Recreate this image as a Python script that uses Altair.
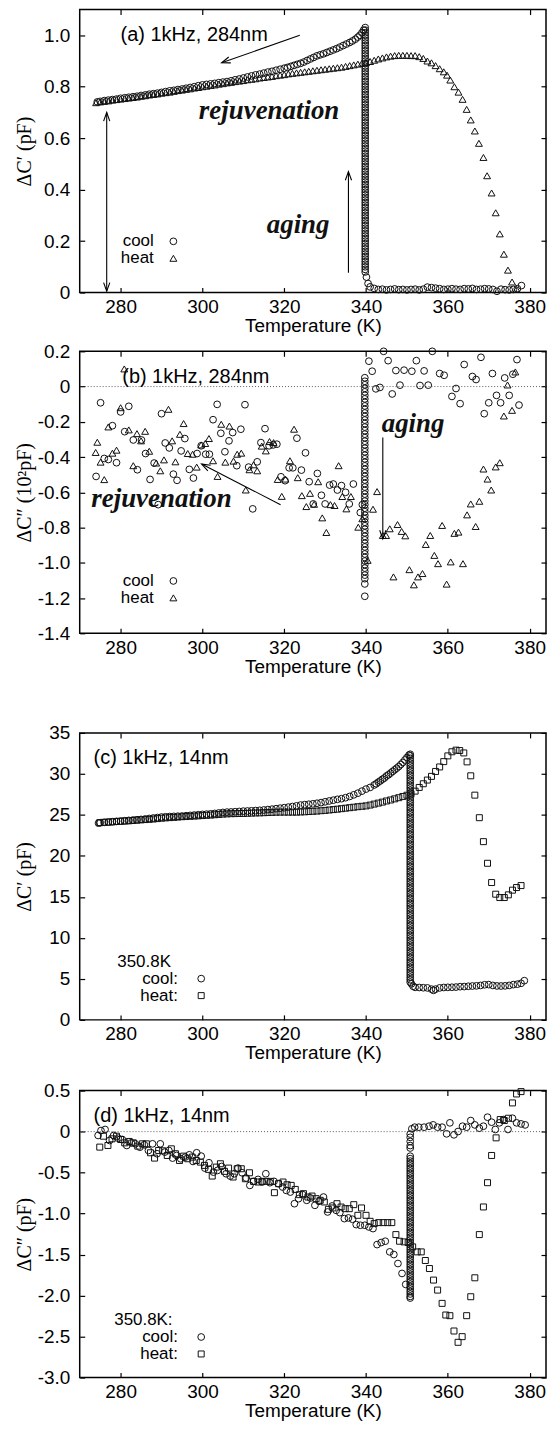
import math
import altair as alt
import pandas as pd

# ---------------- data ----------------
XT = [280, 300, 320, 340, 360, 380]
XDOM = [270, 384]
W = 468

# panel (a) cool: high-T branch, aging column, low-T branch
A_COOL_HI_T = [378, 377, 376, 375, 374, 373, 372, 371, 370, 369, 368, 367, 366, 365, 364, 363, 362, 361, 360, 359,
               358, 357, 356, 355, 354, 353, 352, 351, 350, 349, 348, 347, 346, 345, 344, 343, 342, 341, 340.5, 340.1]
A_COOL_HI_V = [0.027, 0.015, 0.012, 0.010, 0.011, 0.013, 0.005, 0.012, 0.014, 0.015, 0.013, 0.012, 0.016, 0.014,
               0.015, 0.012, 0.013, 0.015, 0.013, 0.012, 0.015, 0.017, 0.019, 0.021, 0.013, 0.010, 0.013, 0.012,
               0.010, 0.012, 0.011, 0.014, 0.012, 0.010, 0.013, 0.012, 0.016, 0.022, 0.035, 0.06]
A_COL_T = 339.8
A_COL_V = [0.08, 0.09, 0.10, 0.11, 0.12, 0.13, 0.14, 0.15, 0.16, 0.17, 0.18, 0.19, 0.20, 0.21, 0.22, 0.23, 0.24,
           0.25, 0.26, 0.27, 0.28, 0.29, 0.30, 0.31, 0.32, 0.33, 0.34, 0.35, 0.36, 0.37, 0.38, 0.39, 0.40, 0.41,
           0.42, 0.43, 0.44, 0.45, 0.46, 0.47, 0.48, 0.49, 0.50, 0.51, 0.52, 0.53, 0.54, 0.55, 0.56, 0.57, 0.58,
           0.59, 0.60, 0.61, 0.62, 0.63, 0.64, 0.65, 0.66, 0.67, 0.68, 0.69, 0.70, 0.71, 0.72, 0.73, 0.74, 0.75,
           0.76, 0.77, 0.78, 0.79, 0.80, 0.81, 0.82, 0.83, 0.84, 0.85, 0.86, 0.87, 0.88, 0.89, 0.90, 0.91, 0.92,
           0.93, 0.94, 0.95, 0.96, 0.97, 0.98, 0.99, 1.00, 1.01, 1.02, 1.03]
A_COOL_LO_T = [339.4, 339, 338.5, 338, 337.4, 336.7, 336, 335.2, 334.4, 333.6, 332.8, 332, 331.2, 330.4, 329.6,
               328.8, 328, 327.2, 326.4, 325.6, 324.8, 324, 323.2, 322.4, 321.6, 320.8, 320, 319, 318, 317, 316,
               315, 314, 313, 312, 311, 310, 309, 308, 307, 306, 305, 304, 303, 302, 301, 300, 299, 298, 297, 296,
               295, 294, 293, 292, 291, 290, 289, 288, 287, 286, 285, 284, 283, 282, 281, 280, 279, 278, 277, 276,
               275, 274.3]
A_COOL_LO_V = [1.02, 1.01, 1.0, 0.993, 0.985, 0.978, 0.972, 0.966, 0.96, 0.954, 0.948, 0.943, 0.938, 0.933, 0.928,
               0.924, 0.92, 0.914, 0.908, 0.902, 0.896, 0.891, 0.887, 0.883, 0.879, 0.875, 0.872, 0.868, 0.864,
               0.86, 0.857, 0.853, 0.849, 0.846, 0.842, 0.838, 0.834, 0.83, 0.827, 0.823, 0.82, 0.818, 0.816,
               0.813, 0.811, 0.809, 0.807, 0.804, 0.8, 0.797, 0.794, 0.791, 0.789, 0.786, 0.784, 0.781, 0.778,
               0.775, 0.773, 0.771, 0.768, 0.766, 0.763, 0.761, 0.759, 0.757, 0.755, 0.752, 0.75, 0.748, 0.746,
               0.743, 0.741]
A_HEAT_T = [274, 275, 276, 277, 278, 279, 280, 281, 282, 283, 284, 285, 286, 287, 288, 289, 290, 291, 292, 293,
            294, 295, 296, 297, 298, 299, 300, 301, 302, 303, 304, 305, 306, 307, 308, 309, 310, 311, 312, 313,
            314, 315, 316, 317, 318, 319, 320, 321, 322, 323, 324, 325, 326, 327, 328, 329, 330, 331, 332, 333,
            334, 335, 336, 337, 338, 339, 340, 341, 342, 343, 344, 345, 346, 347, 348, 349, 350, 351, 352, 353,
            354, 355, 356, 357, 358, 359, 359.8, 360.6, 361.6, 362.6, 363.6, 364.6, 365.6, 366.6, 367.6, 368.7,
            369.6, 370.7, 371.7, 372.7, 373.7, 374.7, 375.7, 376.8]
A_HEAT_V = [0.738, 0.741, 0.743, 0.745, 0.748, 0.75, 0.752, 0.754, 0.756, 0.758, 0.76, 0.763, 0.765, 0.768, 0.77,
            0.772, 0.775, 0.777, 0.779, 0.782, 0.785, 0.787, 0.79, 0.792, 0.795, 0.797, 0.80, 0.802, 0.805, 0.807,
            0.81, 0.812, 0.815, 0.817, 0.82, 0.822, 0.824, 0.827, 0.829, 0.831, 0.834, 0.836, 0.838, 0.84, 0.843,
            0.845, 0.847, 0.85, 0.852, 0.854, 0.856, 0.858, 0.86, 0.862, 0.864, 0.866, 0.868, 0.87, 0.872, 0.874,
            0.876, 0.879, 0.882, 0.885, 0.888, 0.891, 0.894, 0.898, 0.903, 0.908, 0.912, 0.916, 0.919, 0.921,
            0.922, 0.922, 0.922, 0.921, 0.921, 0.917, 0.91, 0.9, 0.893, 0.882, 0.87, 0.858, 0.845, 0.826, 0.80,
            0.779, 0.751, 0.712, 0.671, 0.628, 0.58, 0.525, 0.454, 0.387, 0.31, 0.228, 0.149, 0.087, 0.041, 0.013]

# panel (b)
B_COOL_T = [275.1, 274.0, 276.0, 277.0, 278.0, 279.0, 280.0, 281.0, 282.0, 283.1, 284.1, 285.1, 286.1, 287.2,
            288.2, 289.2, 290.0, 290.9, 291.9, 292.9, 293.8, 294.8, 295.7, 296.8, 297.8, 298.7, 299.7, 300.8,
            301.7, 302.6, 303.6, 304.5, 305.5, 306.5, 307.4, 308.4, 309.4, 310.4, 311.3, 312.3, 313.4, 314.3,
            315.3, 316.3, 317.3, 318.2, 319.2, 320.2, 321.2, 322.1, 323.1, 324.2, 325.2, 326.1, 327.1, 328.1,
            329.1, 330.0, 331.1, 332.0, 333.0, 334.0, 335.0, 335.9, 336.9, 338.6, 339.1,
            340.7, 341.5, 342.4, 343.4, 344.3, 345.4, 346.4, 347.3, 348.3, 349.3, 351.2, 352.3, 353.2, 354.2,
            355.2, 356.2, 358.0, 359.1, 361.0, 362.0, 363.0, 364.0, 366.0, 366.9, 368.1, 368.9, 370.0, 370.9,
            371.9, 372.9, 373.9, 375.0, 375.9, 376.9, 377.4]
B_COOL_V = [-0.092, -0.51, -0.408, -0.414, -0.222, -0.432, -0.144, -0.256, -0.112, -0.303, -0.472, -0.303,
            -0.38, -0.527, -0.434, -0.67, -0.154, -0.32, -0.348, -0.497, -0.532, -0.365, -0.295, -0.47, -0.519,
            -0.38, -0.336, -0.384, -0.384, -0.188, -0.101, -0.265, -0.37, -0.308, -0.261, -0.449, -0.242,
            -0.103, -0.457, -0.694, -0.427, -0.318, -0.239, -0.336, -0.331, -0.327, -0.512, -0.534, -0.461,
            -0.461, -0.293, -0.474, -0.376, -0.54, -0.666, -0.493, -0.617, -0.666, -0.559, -0.553, -0.587,
            -0.562, -0.6, -0.666, -0.553, -0.715, -0.67,
            0.144, 0.087, -0.013, -0.005, 0.2, 0.147, -0.042, 0.091, 0.008, 0.093, 0.087, 0.147, 0.006, 0.089,
            0.008, 0.2, 0.074, 0.064, -0.056, -0.011, -0.097, 0.125, 0.057, 0.04, 0.166, -0.154, -0.092, 0.074,
            -0.05, -0.092, 0.049, -0.05, 0.07, 0.153, -0.105]
B_COL_T = 339.7
B_COL_V = [0.05, 0.03, 0.01, -0.01, -0.03, -0.05, -0.07, -0.09, -0.11, -0.13, -0.15, -0.17, -0.19, -0.21,
           -0.23, -0.25, -0.27, -0.29, -0.31, -0.33, -0.35, -0.37, -0.39, -0.41, -0.43, -0.45, -0.47, -0.49,
           -0.51, -0.53, -0.55, -0.57, -0.59, -0.61, -0.63, -0.65, -0.67, -0.69, -0.71, -0.73, -0.75, -0.77,
           -0.79, -0.81, -0.83, -0.85, -0.87, -0.89, -0.91, -0.93, -0.95, -0.97, -0.99, -1.01, -1.03, -1.05,
           -1.07, -1.09, -1.12, -1.19]
B_HEAT_T = [273.9, 274.3, 275.1, 276.0, 277.0, 278.0, 279.0, 280.0, 280.9, 282.0, 283.1, 284.0, 285.0, 286.0,
            287.0, 288.7, 289.7, 290.6, 291.7, 292.6, 293.4, 294.5, 295.4, 296.4, 297.6, 298.6, 299.7, 300.7,
            301.6, 302.6, 303.7, 304.6, 305.6, 306.6, 307.6, 308.5, 309.5, 310.6, 311.5, 312.5, 313.4, 314.5,
            315.5, 316.4, 317.4, 318.4, 319.4, 320.3, 321.4, 322.4, 323.3, 324.3, 325.4, 326.3, 327.3, 328.3,
            329.3, 330.3, 331.3, 332.3, 333.3, 334.2, 335.2, 336.3, 338.1, 339.1, 340.4, 341.7, 342.7, 344.1,
            344.9, 345.8, 346.7, 347.7, 348.7, 349.6, 350.6, 351.7, 352.7, 353.8, 354.6, 355.7, 356.7, 357.6,
            358.6, 359.7, 360.7, 361.6, 362.6, 363.7, 364.7, 365.6, 366.8, 367.7, 368.7, 369.7, 370.6, 371.7,
            372.7, 373.7, 374.6, 375.7, 376.5]
B_HEAT_V = [-0.374, -0.316, -0.429, -0.528, -0.229, -0.378, -0.361, -0.12, 0.10, -0.246, -0.449, -0.267,
            -0.308, -0.254, -0.367, -0.434, -0.478, -0.416, -0.129, -0.308, -0.427, -0.271, -0.21, -0.38,
            -0.384, -0.457, -0.331, -0.323, -0.295, -0.421, -0.51, -0.214, -0.429, -0.224, -0.423, -0.384,
            -0.378, -0.587, -0.472, -0.444, -0.478, -0.338, -0.365, -0.312, -0.318, -0.527, -0.623, -0.525,
            -0.421, -0.242, -0.517, -0.619, -0.681, -0.606, -0.668, -0.54, -0.745, -0.828, -0.67, -0.675,
            -0.449, -0.624, -0.694, -0.624, -0.798, -0.75, -0.986, -0.696, -0.596, -0.845, -0.845, -0.807,
            -1.08, -0.783, -0.822, -0.847, -1.039, -1.125, -1.08, -1.061, -0.896, -0.845, -0.958, -1.005,
            -0.788, -1.121, -0.995, -0.833, -0.826, -1.005, -0.728, -0.666, -0.794, -0.651, -0.468, -0.525,
            -0.587, -0.456, -0.432, -0.167, 0.009, -0.135, 0.083]

# panel (c)
C_COOL_HI_T = [378.7, 377.9, 377, 376, 375, 374, 373, 372, 371, 370, 369, 368, 367, 366, 365, 364, 363, 362,
               361, 360, 359, 358, 357, 356.5, 356, 355, 354, 353, 352, 351.5, 351.1]
C_COOL_HI_V = [4.78, 4.46, 4.35, 4.3, 4.2, 4.15, 4.13, 4.14, 4.2, 4.3, 4.28, 4.2, 4.15, 4.13, 4.1, 4.06, 4.05,
               4.0, 3.98, 3.97, 3.95, 3.9, 3.75, 3.6, 3.75, 3.9, 3.92, 3.95, 3.97, 4.1, 4.4]
C_COL_T = 350.8
C_COL_V = [4.6, 4.9, 5.2, 5.5, 5.8, 6.1, 6.4, 6.7, 7.0, 7.3, 7.6, 7.9, 8.2, 8.5, 8.8, 9.1, 9.4, 9.7, 10.0,
           10.3, 10.6, 10.9, 11.2, 11.5, 11.8, 12.1, 12.4, 12.7, 13.0, 13.3, 13.6, 13.9, 14.2, 14.5, 14.8, 15.1,
           15.4, 15.7, 16.0, 16.3, 16.6, 16.9, 17.2, 17.5, 17.8, 18.1, 18.4, 18.7, 19.0, 19.3, 19.6, 19.9, 20.2,
           20.5, 20.8, 21.1, 21.4, 21.7, 22.0, 22.3, 22.6, 22.9, 23.2, 23.5, 23.8, 24.1, 24.4, 24.7, 25.0, 25.3,
           25.6, 25.9, 26.2, 26.5, 26.8, 27.1, 27.4, 27.7, 28.0, 28.3, 28.6, 28.9, 29.2, 29.5, 29.8, 30.1, 30.4,
           30.7, 31.0, 31.3, 31.6, 31.9, 32.2, 32.4]
C_COOL_LO_T = [350.5, 350, 349.5, 349, 348.5, 348, 347.5, 347, 346.5, 346, 345.5, 345, 344.5, 344, 343.5, 343,
               342.5, 342, 341, 340, 339, 338, 337, 336, 335, 334, 333, 332, 331, 330, 329, 328, 327, 326, 325,
               324, 323, 322, 321, 320, 319, 318, 317, 316, 315, 314, 313, 312, 311, 310, 309, 308, 307, 306,
               305, 304, 303, 302, 301, 300, 299, 298, 297, 296, 295, 294, 293, 292, 291, 290, 289, 288, 287,
               286, 285, 284, 283, 282, 281, 280, 279, 278, 277, 276, 275, 274.6]
C_COOL_LO_V = [32.3, 32.0, 31.7, 31.4, 31.15, 30.9, 30.7, 30.5, 30.3, 30.1, 29.9, 29.75, 29.5, 29.35, 29.15,
               29.0, 28.8, 28.65, 28.35, 28.15, 27.9, 27.65, 27.45, 27.25, 27.1, 26.98, 26.9, 26.8, 26.7, 26.6,
               26.5, 26.42, 26.35, 26.3, 26.25, 26.2, 26.1, 26.02, 25.95, 25.88, 25.82, 25.76, 25.7, 25.65, 25.6,
               25.56, 25.53, 25.5, 25.48, 25.46, 25.42, 25.39, 25.36, 25.34, 25.3, 25.24, 25.18, 25.13, 25.09,
               25.06, 25.02, 24.98, 24.94, 24.9, 24.86, 24.84, 24.82, 24.8, 24.77, 24.74, 24.68, 24.62, 24.56,
               24.5, 24.45, 24.41, 24.37, 24.33, 24.29, 24.25, 24.21, 24.17, 24.13, 24.09, 24.05, 24.0]
C_HEAT_T = [274.9, 276, 277, 278, 279, 280, 281, 282, 283, 284, 285, 286, 287, 288, 289, 290, 291, 292, 293, 294,
            295, 296, 297, 298, 299, 300, 301, 302, 303, 304, 305, 306, 307, 308, 309, 310, 311, 312, 313, 314,
            315, 316, 317, 318, 319, 320, 321, 322, 323, 324, 325, 326, 327, 328, 329, 330, 331, 332, 333, 334,
            335, 336, 337, 338, 339, 340, 341, 342, 343, 344, 345, 346, 347, 348, 349, 350, 351, 352, 353, 354,
            355, 356, 357, 358, 359, 360, 361, 362, 362.9, 363.9, 364.7, 365.6, 366.6, 367.7, 368.7, 369.7,
            370.7, 371.7, 372.7, 373.8, 374.8, 375.8, 376.8, 377.9]
C_HEAT_V = [24.05, 24.1, 24.12, 24.15, 24.2, 24.22, 24.25, 24.28, 24.32, 24.36, 24.4, 24.43, 24.46, 24.5, 24.55,
            24.6, 24.64, 24.67, 24.7, 24.74, 24.78, 24.8, 24.83, 24.86, 24.89, 24.92, 24.95, 24.98, 25.02, 25.06,
            25.1, 25.13, 25.15, 25.16, 25.17, 25.18, 25.2, 25.22, 25.24, 25.25, 25.27, 25.29, 25.31, 25.33,
            25.34, 25.34, 25.34, 25.34, 25.34, 25.36, 25.38, 25.41, 25.44, 25.47, 25.51, 25.55, 25.6, 25.65,
            25.7, 25.76, 25.82, 25.88, 25.94, 26.0, 26.05, 26.1, 26.2, 26.32, 26.44, 26.56, 26.7, 26.82, 26.96,
            27.1, 27.25, 27.4, 27.57, 27.9, 28.35, 28.8, 29.25, 29.7, 30.3, 30.85, 31.5, 32.2, 32.7, 32.9,
            32.85, 32.56, 31.47, 29.77, 27.41, 24.66, 21.74, 19.1, 16.75, 15.33, 14.92, 14.92, 15.25, 15.82,
            16.14, 16.38]

# panel (d)
D_COOL_T = [274.5, 275.2, 276.2, 277.3, 278.3, 279.4, 280.4, 281.5, 282.6, 283.6, 284.7, 285.8, 286.8, 287.8,
            288.9, 289.7, 290.8, 291.8, 292.7, 293.7, 294.7, 295.8, 296.8, 297.7, 298.6, 299.7, 300.6, 301.6,
            302.7, 303.7, 304.7, 305.8, 306.8, 307.8, 308.7, 309.7, 310.7, 311.6, 312.5, 313.6, 314.6, 315.5,
            316.5, 317.5, 318.6, 319.6, 320.5, 321.5, 322.5, 323.5, 324.5, 325.5, 326.4, 327.5, 328.5, 329.6,
            330.6, 331.7, 332.7, 333.6, 334.7, 335.7, 336.7, 337.6, 338.6, 339.7, 340.7, 341.7, 342.7, 343.7,
            344.7, 345.8, 346.8, 347.8, 348.8, 349.7,
            351.2, 351.9, 352.9, 354.2, 355.4, 356.4, 357.5, 358.6, 359.7, 360.5, 361.5, 362.5, 363.6, 364.6,
            365.6, 366.6, 367.7, 368.7, 369.7, 370.7, 371.6, 372.6, 373.6, 374.7, 375.8, 376.8, 377.9, 378.9]
D_COOL_V = [-0.047, 0.013, 0.026, -0.108, -0.047, -0.08, -0.096, -0.169, -0.137, -0.149, -0.19, -0.161, -0.23,
            -0.149, -0.27, -0.149, -0.25, -0.23, -0.323, -0.291, -0.331, -0.311, -0.283, -0.364, -0.258, -0.299,
            -0.445, -0.38, -0.494, -0.473, -0.425, -0.514, -0.542, -0.514, -0.445, -0.502, -0.566, -0.656,
            -0.607, -0.583, -0.615, -0.514, -0.623, -0.607, -0.635, -0.676, -0.717, -0.737, -0.879, -0.818,
            -0.769, -0.838, -0.81, -0.899, -0.85, -0.798, -0.98, -0.907, -0.96, -0.988, -1.061, -1.053, -1.069,
            -1.134, -1.142, -1.142, -1.163, -1.183, -1.378, -1.353, -1.337, -1.467, -1.499, -1.609, -1.73, -1.864,
            0.034, 0.054, 0.054, 0.054, 0.066, 0.082, 0.054, 0.054, -0.027, 0.107, -0.039, 0.001, 0.066, 0.054,
            0.135, 0.082, 0.042, 0.066, 0.176, 0.115, 0.026, 0.107, 0.147, 0.026, 0.163, 0.107, 0.094, 0.082]
D_COL_T = 350.8
D_COL_V = [-0.03, -0.07, -0.12, -0.17, -0.20, -0.30, -0.33, -0.36, -0.39, -0.42, -0.45, -0.48, -0.51, -0.54,
           -0.57, -0.60, -0.63, -0.66, -0.69, -0.72, -0.75, -0.78, -0.81, -0.84, -0.87, -0.90, -0.93, -0.96,
           -0.99, -1.02, -1.05, -1.08, -1.11, -1.14, -1.17, -1.20, -1.23, -1.26, -1.29, -1.32, -1.35, -1.38,
           -1.41, -1.44, -1.47, -1.50, -1.53, -1.56, -1.59, -1.62, -1.65, -1.68, -1.71, -1.74, -1.77, -1.80,
           -1.83, -1.86, -1.89, -1.92, -1.95, -1.98, -2.01, -2.03]
D_HEAT_T = [274.9, 275.8, 276.9, 277.9, 279.0, 280.0, 281.0, 282.1, 283.1, 284.2, 285.3, 286.3, 287.3, 288.3,
            289.3, 290.3, 291.4, 292.4, 293.4, 294.4, 295.4, 296.4, 297.5, 298.5, 299.5, 300.5, 301.5, 302.4,
            303.4, 304.4, 305.4, 306.4, 307.5, 308.5, 309.5, 310.5, 311.5, 312.5, 313.6, 314.6, 315.6, 316.6,
            317.6, 318.6, 319.7, 320.7, 321.7, 322.7, 323.7, 324.7, 325.8, 326.8, 327.8, 328.8, 329.8, 330.8,
            331.9, 332.9, 333.9, 334.9, 335.9, 337.0, 338.0, 338.9, 340.0, 341.0, 342.0, 343.1, 344.2, 345.3,
            346.3, 347.3, 348.2, 349.3, 350.3, 351.4, 352.5, 353.5, 354.5, 355.5, 356.5, 357.5, 358.6, 359.5,
            360.5, 361.5, 362.5, 363.5, 364.6, 365.6, 366.6, 367.7, 368.7, 369.7, 370.7, 371.8, 372.8, 373.8,
            374.8, 375.8, 376.8, 377.9]
D_HEAT_V = [-0.189, -0.056, -0.169, -0.088, -0.056, -0.096, -0.137, -0.12, -0.137, -0.177, -0.149, -0.149,
            -0.258, -0.323, -0.23, -0.234, -0.291, -0.21, -0.27, -0.352, -0.299, -0.331, -0.311, -0.352, -0.372,
            -0.412, -0.461, -0.542, -0.433, -0.392, -0.485, -0.445, -0.554, -0.453, -0.453, -0.575, -0.502,
            -0.607, -0.615, -0.607, -0.607, -0.607, -0.745, -0.635, -0.615, -0.648, -0.656, -0.705, -0.769,
            -0.757, -0.798, -0.786, -0.818, -0.838, -0.858, -0.948, -0.931, -0.879, -0.92, -0.94, -0.94, -0.891,
            -1.021, -0.931, -1.021, -1.094, -1.122, -1.11, -1.11, -1.11, -1.11, -1.256, -1.337, -1.345, -1.353,
            -1.406, -1.467, -1.467, -1.572, -1.67, -1.811, -1.933, -2.095, -2.237, -2.245, -2.432, -2.57,
            -2.501, -2.245, -2.014, -1.783, -1.256, -0.919, -0.623, -0.291, -0.076, 0.147, 0.135, 0.163, 0.35,
            0.459, 0.488]

# ---------------- styling helpers ----------------
SANS = "Liberation Sans"
SERIF = "Liberation Serif"
HEAD = "M -0.36 1 L 0 0 L 0.36 1"
CIRC, TRI, SQR = 46, 48, 36


def fmt_expr(dec):
    if dec == 0:
        return "(datum.value < 0 ? '-' : '') + format(abs(datum.value), 'd')"
    return ("datum.value == 0 ? '0' : (datum.value < 0 ? '-' : '') + format(abs(datum.value), '.%df')" % dec)


def panel(ydom, H, yticks, dec, ytitle, cool_sets, heat_sets, heat_shape, zero, label, texts_bi,
          legend_txt, legend_pts, arrows):
    xs = alt.Scale(domain=XDOM, nice=False, zero=False)
    ys = alt.Scale(domain=ydom, nice=False, zero=False)
    kx = W / (XDOM[1] - XDOM[0])
    ky = H / (ydom[1] - ydom[0])

    def X(f, axis=None):
        return alt.X(f, type="quantitative", scale=xs, axis=axis)

    def Y(f, axis=None):
        return alt.Y(f, type="quantitative", scale=ys, axis=axis)

    dummy = pd.DataFrame({"T": [XDOM[0]], "v": [ydom[0]]})
    ax_b = alt.Axis(values=XT, orient="bottom", offset=-5, tickSize=5, tickWidth=1.2, tickColor="black",
                    domain=False, grid=False, labelPadding=5, labelFont=SANS, labelFontSize=19,
                    labelColor="black", title="Temperature (K)", titleFont=SANS, titleFontSize=19,
                    titleFontWeight="normal", titleColor="black", titlePadding=0)
    ax_l = alt.Axis(values=yticks, orient="left", offset=-5, tickSize=5, tickWidth=1.2, tickColor="black",
                    domain=False, grid=False, labelPadding=10, labelFont=SANS, labelFontSize=19,
                    labelColor="black", labelExpr=fmt_expr(dec), title=ytitle, titleFont=SERIF,
                    titleFontSize=20, titleFontWeight="normal", titleColor="black", titleX=-60,
                    titleBaseline="middle")
    ax_t = alt.Axis(values=XT, orient="top", offset=-5, tickSize=5, tickWidth=1.2, tickColor="black",
                    domain=False, grid=False, labels=False, title=None)
    ax_r = alt.Axis(values=yticks, orient="right", offset=-5, tickSize=5, tickWidth=1.2, tickColor="black",
                    domain=False, grid=False, labels=False, title=None)

    layers = [
        alt.Chart(dummy).mark_point(opacity=0).encode(x=X("T", ax_b), y=Y("v", ax_l)),
        alt.Chart(dummy).mark_point(opacity=0).encode(x=X("T", ax_t), y=Y("v", ax_r)),
    ]
    if zero:
        layers.append(alt.Chart(pd.DataFrame({"v": [0]})).mark_rule(
            strokeDash=[1, 2], color="#333", strokeWidth=0.8).encode(y=Y("v")))

    def pts(T, V, shape, size):
        df = pd.DataFrame({"T": T, "v": V})
        return alt.Chart(df).mark_point(shape=shape, filled=False, size=size, color="#111",
                                        strokeWidth=1, opacity=1).encode(x=X("T"), y=Y("v"))

    for T, V in cool_sets:
        layers.append(pts(T, V, "circle", CIRC))
    for T, V in heat_sets:
        layers.append(pts(T, V, heat_shape, TRI if heat_shape != "square" else SQR))

    if arrows:
        rules = pd.DataFrame([{"x": a[0], "y": a[1], "x2": a[2], "y2": a[3]} for a in arrows])
        layers.append(alt.Chart(rules).mark_rule(color="black", strokeWidth=1.1).encode(
            x=X("x"), y=Y("y"), x2="x2:Q", y2="y2:Q"))
        heads = []
        for (x1, y1, x2, y2, both) in arrows:
            dx, dy = (x2 - x1) * kx, -(y2 - y1) * ky
            ang = math.degrees(math.atan2(dx, -dy)) % 360
            heads.append({"x": x2, "y": y2, "a": ang})
            if both:
                heads.append({"x": x1, "y": y1, "a": (ang + 180) % 360})
        layers.append(alt.Chart(pd.DataFrame(heads)).mark_point(
            shape=HEAD, filled=False, size=300, color="black", strokeWidth=1.1, opacity=1).encode(
            x=X("x"), y=Y("y"), angle=alt.Angle("a:Q", scale=None)))

    lab = pd.DataFrame([{"x": label[1], "y": label[2], "s": label[0]}])
    layers.append(alt.Chart(lab).mark_text(font=SANS, fontSize=20, align="left", baseline="middle",
                                           color="black").encode(x=X("x"), y=Y("y"), text="s:N"))
    if texts_bi:
        tb = pd.DataFrame([{"x": t[1], "y": t[2], "s": t[0]} for t in texts_bi])
        layers.append(alt.Chart(tb).mark_text(font=SERIF, fontSize=27, fontStyle="italic", fontWeight="bold",
                                              align="center", baseline="middle", color="#111").encode(
            x=X("x"), y=Y("y"), text="s:N"))
    lt = pd.DataFrame([{"x": t[1], "y": t[2], "s": t[0]} for t in legend_txt])
    layers.append(alt.Chart(lt).mark_text(font=SANS, fontSize=17, align="right", baseline="middle",
                                          color="black").encode(x=X("x"), y=Y("y"), text="s:N"))
    for (x, y, shp) in legend_pts:
        layers.append(pts([x], [y], shp, CIRC if shp == "circle" else (SQR if shp == "square" else TRI)))

    return alt.layer(*layers).resolve_axis(x="independent", y="independent").properties(width=W, height=H)


pa = panel([0, 1.1], 284, [0, 0.2, 0.4, 0.6, 0.8, 1.0], 1, "ΔC′ (pF)",
           [(A_COOL_HI_T, A_COOL_HI_V), ([A_COL_T] * len(A_COL_V), A_COL_V), (A_COOL_LO_T, A_COOL_LO_V)],
           [(A_HEAT_T, A_HEAT_V)], "triangle-up", False,
           ("(a) 1kHz, 284nm", 280.0, 1.0),
           [("rejuvenation", 316.3, 0.706), ("aging", 323.4, 0.263)],
           [("cool", 288.1, 0.199), ("heat", 288.1, 0.133)],
           [(292.9, 0.199, "circle"), (292.9, 0.133, "triangle-up")],
           [(323.8, 1.0, 304.7, 0.893, False), (276.6, 0.70, 276.6, 0.005, True),
            (335.7, 0.077, 335.7, 0.47, False)])

pb = panel([-1.4, 0.2], 283, [-1.4, -1.2, -1.0, -0.8, -0.6, -0.4, -0.2, 0, 0.2], 1, "ΔC″ (10²pF)",
           [(B_COOL_T, B_COOL_V), ([B_COL_T] * len(B_COL_V), B_COL_V)],
           [(B_HEAT_T, B_HEAT_V)], "triangle-up", True,
           ("(b) 1kHz, 284nm", 280.4, 0.055),
           [("aging", 351.5, -0.21), ("rejuvenation", 290.0, -0.638)],
           [("cool", 288.1, -1.103), ("heat", 288.1, -1.199)],
           [(292.9, -1.103, "circle"), (292.9, -1.199, "triangle-up")],
           [(344.1, -0.289, 344.1, -0.864, False), (319.1, -0.67, 299.8, -0.44, False)])

pc = panel([0, 35], 288, [0, 5, 10, 15, 20, 25, 30, 35], 0, "ΔC′ (pF)",
           [(C_COOL_HI_T, C_COOL_HI_V), ([C_COL_T] * len(C_COL_V), C_COL_V), (C_COOL_LO_T, C_COOL_LO_V)],
           [(C_HEAT_T, C_HEAT_V)], "square", False,
           ("(c) 1kHz, 14nm", 273.4, 31.95),
           [],
           [("350.8K", 292.3, 7.1), ("cool:", 294.0, 5.03), ("heat:", 294.0, 2.96)],
           [(299.7, 5.03, "circle"), (299.7, 2.96, "square")],
           [])

pd_ = panel([-3.0, 0.5], 288, [-3.0, -2.5, -2.0, -1.5, -1.0, -0.5, 0, 0.5], 1, "ΔC″ (pF)",
            [(D_COOL_T, D_COOL_V), ([D_COL_T] * len(D_COL_V), D_COL_V)],
            [(D_HEAT_T, D_HEAT_V)], "square", True,
            ("(d) 1kHz, 14nm", 273.4, 0.188),
            [],
            [("350.8K:", 292.7, -2.298), ("cool:", 294.0, -2.505), ("heat:", 294.0, -2.712)],
            [(299.7, -2.505, "circle"), (299.7, -2.712, "square")],
            [])

chart = alt.vconcat(
    alt.vconcat(pa, pb, spacing=5),
    alt.vconcat(pc, pd_, spacing=17),
    spacing=46,
).properties(
    padding={"left": 14, "top": 5, "right": 0, "bottom": 0},
    background="white",
).configure_view(stroke="black", strokeWidth=1.5)

chart.save("out.html", embed_options={"renderer": "svg", "actions": False})
